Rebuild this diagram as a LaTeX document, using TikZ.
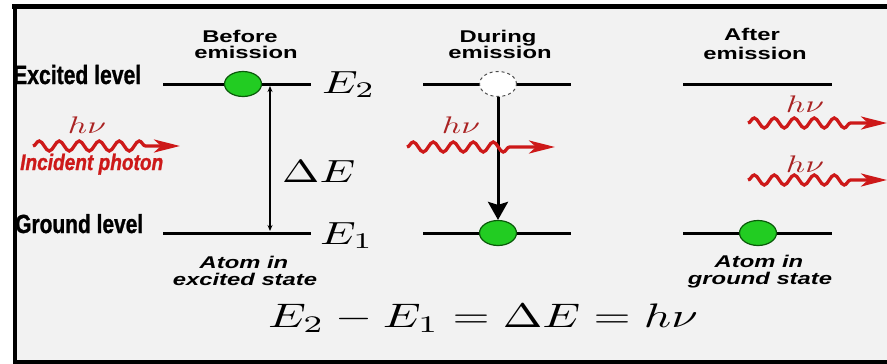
\documentclass[tikz,border=0pt]{standalone}
\usepackage[no-math]{fontspec}
\usepackage{graphicx}
\usetikzlibrary{decorations.pathmorphing,arrows.meta,shapes.geometric}
\newfontfamily\arialf{Liberation Sans}
\newfontfamily\narrowf[FakeBold=1.2]{Liberation Sans Bold}
\definecolor{bggray}{RGB}{242,242,242}
\definecolor{phred}{RGB}{205,25,25}
\definecolor{nured}{RGB}{170,35,35}
\definecolor{ballgreen}{RGB}{34,204,34}
\definecolor{balledge}{RGB}{10,90,10}
\newcommand\sx[2][1.4]{\scalebox{#1}[1]{#2}}
% math scaled from 10pt: #1 = target size / 10
\newcommand\mathsz[2]{\scalebox{\fpeval{1.4*#1}}[#1]{#2}}
\begin{document}
\begin{tikzpicture}[x=1pt,y=-1pt,
  level/.style={line width=3pt},
  ball/.style={ellipse,minimum width=37pt,minimum height=25pt,inner sep=0pt,fill=ballgreen,draw=balledge,line width=1.2pt},
  hole/.style={ellipse,minimum width=37pt,minimum height=25pt,inner sep=0pt,fill=white,draw=black!70,dashed,line width=1pt},
  capt/.style={font=\arialf\bfseries\fontsize{17}{18}\selectfont,anchor=base,inner sep=0pt},
  captit/.style={font=\arialf\bfseries\itshape\fontsize{17}{18}\selectfont,anchor=base,inner sep=0pt},
  lvltext/.style={font=\narrowf\fontsize{24}{26}\selectfont,anchor=base west,inner sep=0pt},
  elabel/.style={anchor=base west,inner sep=0pt},
  hnu/.style={text=nured,anchor=base,inner sep=0pt},
  wave/.style={phred,line width=3.3pt,decorate,-{Stealth[length=26pt,width=13pt,inset=7pt]}},
  dbl/.style={line width=1.2pt,{Stealth[length=6pt,width=5pt]}-{Stealth[length=6pt,width=5pt]}},
  fall/.style={line width=3pt,-{Stealth[length=18pt,width=20pt,inset=3pt]}}
]
\useasboundingbox (0,0) rectangle (887,364);
% frame
\fill[white] (0,0) rectangle (887,364);
\fill[bggray] (15,7) rectangle (887,361);
\draw[line width=5pt] (12,6.5) -- (887,6.5);
\draw[line width=4pt] (15,4) -- (15,364);
\draw[line width=4pt] (13,362) -- (887,362);

% level lines
\coordinate (a2l) at (163,84); \coordinate (a2r) at (311,84);
\coordinate (a1l) at (163,233); \coordinate (a1r) at (311,233);
\coordinate (b2l) at (423,84); \coordinate (b2r) at (571,84);
\coordinate (b1l) at (423,233); \coordinate (b1r) at (571,233);
\coordinate (c2l) at (683,84); \coordinate (c2r) at (832,84);
\coordinate (c1l) at (683,233); \coordinate (c1r) at (832,233);
\draw[level] (a2l) -- (a2r);
\draw[level] (a1l) -- (a1r);
\draw[level] (b2l) -- (b2r);
\draw[level] (b1l) -- (b1r);
\draw[level] (c2l) -- (c2r);
\draw[level] (c1l) -- (c1r);

% left column
\node[ball] (ba) at (243,84) {};
\coordinate (da) at (270,86); \coordinate (db) at (270,231);
\draw[dbl] (da) -- (db);
\node[elabel] (E2) at (322,93) {\mathsz{3.2}{$E_2$}};
\node[elabel] (dE) at (282,182) {\mathsz{3.2}{$\Delta E$}};
\node[elabel] (E1) at (320,244) {\mathsz{3.2}{$E_1$}};
\node[lvltext] (exc) at (13,84) {\resizebox{128pt}{!}{\sx[0.8]{Excited level}}};
\node[lvltext] (gnd) at (15,233) {\resizebox{128pt}{!}{\sx[0.8]{Ground level}}};
\node[capt] (bf1) at (240,42) {\sx{Before}};
\node[capt] (bf2) at (246,58) {\sx{emission}};
\node[captit] (ae1) at (244,268) {\sx{Atom in}};
\node[captit] (ae2) at (245,285) {\sx{excited state}};
\node[hnu] (hn1) at (87,133) {\mathsz{2.4}{$h\nu$}};
\node[font=\narrowf\itshape\fontsize{19}{20}\selectfont,text=phred,anchor=base west,inner sep=0pt] (inc) at (20,170) {\resizebox{143pt}{!}{\sx[0.85]{Incident photon}}};
\coordinate (w1s) at (33,146); \coordinate (w1e) at (180,146);
\draw[wave,decoration={snake,segment length=20pt,amplitude=5pt,post length=30pt}] (w1s) -- (w1e);

% middle column
\node[hole] (hb) at (498,84) {};
\node[ball] (bb) at (498,233) {};
\draw[fall] (hb.south) -- (bb.north);
\node[capt] (du1) at (498,42) {\sx{During}};
\node[capt] (du2) at (500,58) {\sx{emission}};
\node[hnu] (hn2) at (461,133) {\mathsz{2.4}{$h\nu$}};
\coordinate (w2s) at (407,147); \coordinate (w2e) at (555,147);
\draw[wave,decoration={snake,segment length=20pt,amplitude=5pt,post length=40pt}] (w2s) -- (w2e);

% right column
\node[ball] (bc) at (758,233) {};
\node[capt] (af1) at (752,41) {\sx{After}};
\node[capt] (af2) at (755,59) {\sx{emission}};
\node[captit] (ag1) at (759,267) {\sx{Atom in}};
\node[captit] (ag2) at (760,284) {\sx{ground state}};
\node[hnu] (hn3) at (805,112) {\mathsz{2.4}{$h\nu$}};
\node[hnu] (hn4) at (805,172) {\mathsz{2.4}{$h\nu$}};
\coordinate (w3s) at (748,123); \coordinate (w3e) at (887,123);
\coordinate (w4s) at (748,180); \coordinate (w4e) at (887,180);
\draw[wave,decoration={snake,segment length=20pt,amplitude=5pt,post length=30pt}] (w3s) -- (w3e);
\draw[wave,decoration={snake,segment length=20pt,amplitude=5pt,post length=30pt}] (w4s) -- (w4e);

% equation
\node[anchor=base west,inner sep=0pt] (eq) at (268,327) {\mathsz{3.4}{$E_2-E_1=\Delta E=h\nu$}};
\end{tikzpicture}
\end{document}
